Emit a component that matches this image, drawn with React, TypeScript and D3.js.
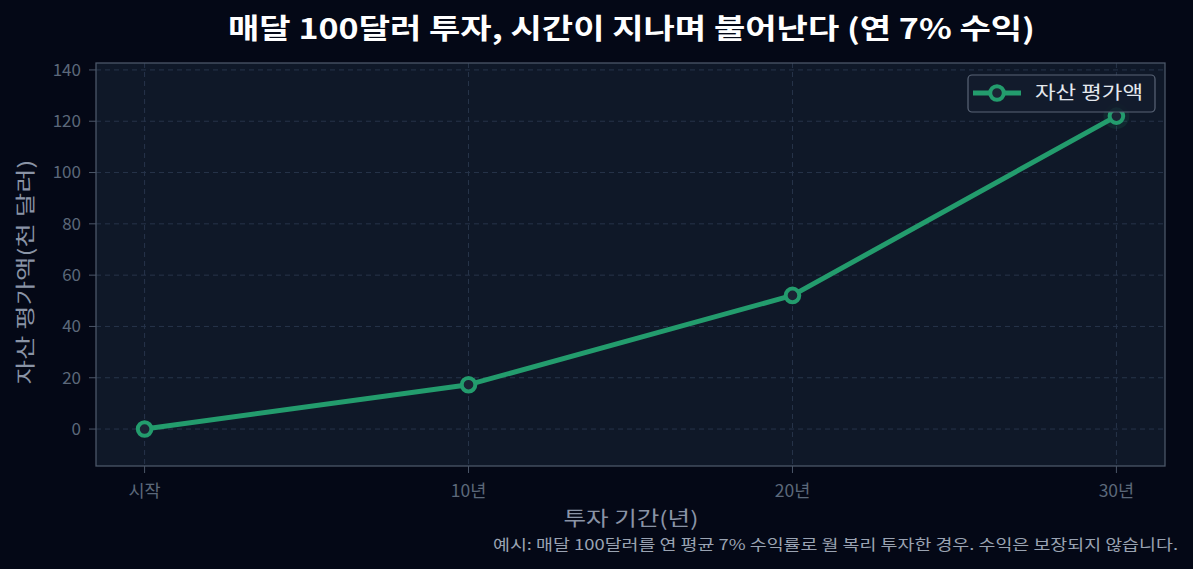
import React from "react";
import * as d3 from "d3";

const categories = ["시작", "10년", "20년", "30년"];
const values = [0, 17.3, 52.1, 122.0];
const yTicks = [0, 20, 40, 60, 80, 100, 120, 140];

const W = 1193, H = 569;
const M = { left: 96, right: 1165, top: 63, bottom: 466 };
const FONT = "'Noto Sans CJK KR', 'Noto Sans', sans-serif";

export default function App() {
  const x = d3.scaleLinear().domain([-0.15, 3.15]).range([M.left, M.right]);
  const y = d3.scaleLinear().domain([-14.4, 142.7]).range([M.bottom, M.top]);
  const line = d3.line<number>().x((_, i) => x(i)).y((d) => y(d));
  const green = "#239c6d";
  const plotBg = "#0f1828";
  const markerFill = "#1b2434";
  const last = values.length - 1;
  return (
    <svg width={W} height={H} style={{ position: "absolute", left: 0, top: 0, background: "#040816" }} fontFamily={FONT}>
      <rect x={0} y={0} width={W} height={H} fill="#040816" />
      <rect x={M.left} y={M.top} width={M.right - M.left} height={M.bottom - M.top} fill={plotBg} />
      {yTicks.map((t) => (
        <g key={t}>
          <line x1={M.left} x2={M.right} y1={y(t)} y2={y(t)} stroke="#27344a" strokeDasharray="5,4" strokeWidth={1} />
          <line x1={M.left - 7} x2={M.left} y1={y(t)} y2={y(t)} stroke="#4b5668" />
          <text x={M.left - 15} y={y(t)} dy="0.35em" textAnchor="end" fill="#5c687a" fontSize={17}>{t}</text>
        </g>
      ))}
      {categories.map((c, i) => (
        <g key={c}>
          <line x1={x(i)} x2={x(i)} y1={M.top} y2={M.bottom} stroke="#27344a" strokeDasharray="5,4" strokeWidth={1} />
          <line x1={x(i)} x2={x(i)} y1={M.bottom} y2={M.bottom + 7} stroke="#4b5668" />
          <text x={x(i)} y={M.bottom + 25} dy="0.35em" textAnchor="middle" fill="#5c687a" fontSize={17.5}>{c}</text>
        </g>
      ))}
      <rect x={M.left} y={M.top} width={M.right - M.left} height={M.bottom - M.top} fill="none" stroke="#4b5668" strokeWidth={1.3} />
      <circle cx={x(last)} cy={y(values[last])} r={13} fill={green} fillOpacity={0.12} />
      <path d={line(values) || ""} fill="none" stroke={green} strokeWidth={5} strokeLinejoin="round" />
      {values.map((v, i) => (
        <circle key={i} cx={x(i)} cy={y(v)} r={6.8} fill={markerFill} stroke={green} strokeWidth={4} />
      ))}
      <g>
        <rect x={968} y={75} width={187} height={37} rx={4} fill="#131c2c" fillOpacity={0.9} stroke="#5a6577" strokeWidth={1.2} />
        <line x1={973} x2={1021} y1={93} y2={93} stroke={green} strokeWidth={5} />
        <circle cx={997} cy={93} r={6.8} fill={markerFill} stroke={green} strokeWidth={4} />
        <text x={1035} y={93} dy="0.35em" fill="#e4e8ee" fontSize={18} textLength={108} lengthAdjust="spacingAndGlyphs">자산 평가액</text>
      </g>
      <text x={631.5} y={29} dy="0.35em" textAnchor="middle" fill="#ffffff" fontSize={28} fontWeight="bold" textLength={807} lengthAdjust="spacingAndGlyphs">매달 100달러 투자, 시간이 지나며 불어난다 (연 7% 수익)</text>
      <text x={631} y={519} dy="0.35em" textAnchor="middle" fill="#8a94a6" fontSize={20} textLength={135} lengthAdjust="spacingAndGlyphs">투자 기간(년)</text>
      <text transform={`translate(26,272) rotate(-90)`} dy="0.35em" textAnchor="middle" fill="#8a94a6" fontSize={20} textLength={225} lengthAdjust="spacingAndGlyphs">자산 평가액(천 달러)</text>
      <text x={1178} y={545} dy="0.35em" textAnchor="end" fill="#9aa3b2" fontSize={15} textLength={685} lengthAdjust="spacingAndGlyphs">예시: 매달 100달러를 연 평균 7% 수익률로 월 복리 투자한 경우. 수익은 보장되지 않습니다.</text>
    </svg>
  );
}
